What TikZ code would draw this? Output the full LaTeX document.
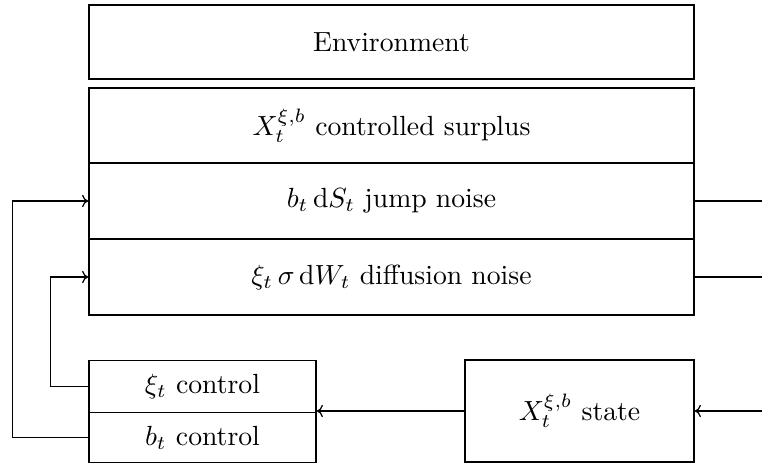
\documentclass[tikz,border=0pt]{standalone}
\usetikzlibrary{arrows.meta}
\begin{document}
\begin{tikzpicture}[x=0.361pt,y=-0.361pt,
  box/.style={draw,line width=0.6pt,rectangle,inner sep=0pt,font=\normalsize},
  wide/.style={box,minimum width=605*0.361pt},
  conn/.style={line width=0.45pt},
  tip/.style={conn,-{To[length=2.2pt,width=4.4pt]}}]
\useasboundingbox (0,0) rectangle (762,468);
\node[wide,minimum height=74*0.361pt] (env) at (391.5,42) {Environment};
\node[wide,minimum height=75*0.361pt] (ctrl) at (391.5,125.5) {$X_t^{\xi,b}$ controlled surplus};
\node[wide,minimum height=76*0.361pt] (jump) at (391.5,201) {$b_t\,\mathrm{d}S_t$ jump noise};
\node[wide,minimum height=76*0.361pt] (diff) at (391.5,277) {$\xi_t\,\sigma\,\mathrm{d}W_t$ diffusion noise};
\node[box,minimum width=227*0.361pt,minimum height=52*0.361pt] (xictl) at (202.5,386.5) {$\xi_t$ control};
\node[box,minimum width=227*0.361pt,minimum height=50*0.361pt] (bctl) at (202.5,437.5) {$b_t$ control};
\node[box,minimum width=229*0.361pt,minimum height=102*0.361pt] (state) at (579.5,411) {$X_t^{\xi,b}$ state};
\coordinate (rj) at (762,201);
\coordinate (rd) at (762,277);
\coordinate (rs) at (762,411);
\draw[conn] (jump.east) -- (rj);
\draw[conn] (diff.east) -- (rd);
\draw[tip] (rs) -- (state.east);
\draw[tip] (state.west) -- (state.west -| xictl.east);
\draw[tip] (bctl.west) -- ++(-76,0) |- (jump.west);
\draw[tip] (xictl.west) -- ++(-38,0) |- (diff.west);
\end{tikzpicture}
\end{document}
